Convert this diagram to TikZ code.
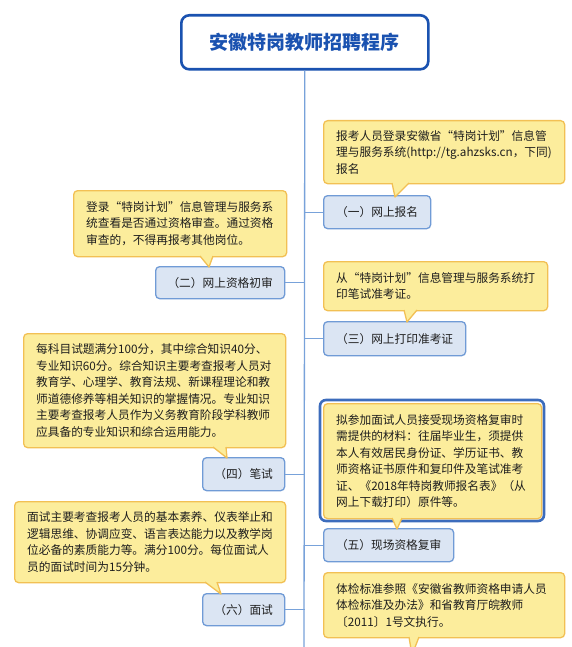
\documentclass[tikz,border=0pt]{standalone}
\usepackage{fontspec}
\setmainfont{Noto Sans CJK SC}
\definecolor{cfill}{RGB}{252,237,156}
\definecolor{cborder}{RGB}{242,192,84}
\definecolor{bfill}{RGB}{219,229,243}
\definecolor{bborder}{RGB}{112,155,214}
\definecolor{tblue}{RGB}{26,82,176}
\definecolor{trunkc}{RGB}{120,162,218}
\definecolor{txt}{RGB}{30,30,30}
\newcommand\ptr[4]{%
  \fill[cfill] (#1,#3-1.3) -- (#1,#3) -- #4 -- (#2,#3) -- (#2,#3-1.3) -- cycle;
  \draw[cborder,line width=1.3pt,line join=round] (#1,#3) -- #4 -- (#2,#3);}
\begin{document}
\begin{tikzpicture}[x=1pt,y=-1pt,
  callout/.style={draw=cborder,fill=cfill,line width=1.3pt,rounded corners=4pt,
    anchor=north west,align=left,inner xsep=12.5pt,inner ysep=0pt,
    text=txt,font=\fontsize{11.7}{16.5}\selectfont},
  branch/.style={draw=bborder,fill=bfill,line width=1.3pt,rounded corners=4pt,
    anchor=north west,inner sep=0pt,text=txt,font=\fontsize{11.7}{14}\selectfont},
  conn/.style={draw=trunkc,line width=1.3pt}]
\useasboundingbox (0,0) rectangle (572,647);
\fill[white] (0,0) rectangle (572,647);
% title
\node[draw=tblue,fill=white,line width=2.6pt,rounded corners=8pt,anchor=north west,
  minimum width=247pt,minimum height=54pt,inner sep=0pt,text=tblue,
  font=\fontsize{19}{22}\selectfont\bfseries] (title) at (180,14) {安徽特岗教师招聘程序};
\coordinate (bottom) at (304,650);
\draw[conn] (title.south) -- (bottom);
% branch nodes
\node[branch,minimum width=107pt,minimum height=33pt] (b1) at (323,195) {（一）网上报名};
\node[branch,minimum width=129pt,minimum height=32pt] (b2) at (155,266) {（二）网上资格初审};
\node[branch,minimum width=142pt,minimum height=34pt] (b3) at (323,321) {（三）网上打印准考证};
\node[branch,minimum width=82pt,minimum height=33pt] (b4) at (202,457) {（四）笔试};
\node[branch,minimum width=130pt,minimum height=33pt] (b5) at (323,528) {（五）现场资格复审};
\node[branch,minimum width=82pt,minimum height=32pt] (b6) at (202,593) {（六）面试};
\draw[conn] (b1.west) -- (b1.west -| title.south);
\draw[conn] (b2.east) -- (b2.east -| title.south);
\draw[conn] (b3.west) -- (b3.west -| title.south);
\draw[conn] (b4.east) -- (b4.east -| title.south);
\draw[conn] (b5.west) -- (b5.west -| title.south);
\draw[conn] (b6.east) -- (b6.east -| title.south);
% callouts
\node[callout,minimum width=241pt,minimum height=63pt,text width=216pt] (c1) at (323,120)
  {报考人员登录安徽省“特岗计划”信息管\\理与服务系统(http://tg.ahzsks.cn，下同)\\报名};
\ptr{392}{409}{183}{(395,197)}
\node[callout,minimum width=213pt,minimum height=66pt,text width=188pt] (c2) at (73,190)
  {登录“特岗计划”信息管理与服务系\\统查看是否通过资格审查。通过资格\\审查的，不得再报考其他岗位。};
\ptr{200}{213}{256}{(209,267)}
\node[callout,minimum width=224pt,minimum height=49pt,text width=199pt] (c3) at (323,261)
  {从“特岗计划”信息管理与服务系统打\\印笔试准考证。};
\ptr{404}{417}{310}{(407,322)}
\node[callout,minimum width=262pt,minimum height=114pt,text width=237pt] (c4) at (23,333)
  {每科目试题满分100分，其中综合知识40分、\\专业知识60分。综合知识主要考查报考人员对\\教育学、心理学、教育法规、新课程理论和教\\师道德修养等相关知识的掌握情况。专业知识\\主要考查报考人员作为义务教育阶段学科教师\\应具备的专业知识和综合运用能力。};
\ptr{213}{226}{447}{(227,458)}
\draw[draw=tblue!85!white,line width=2.6pt,rounded corners=6pt] (320,400) rectangle (544,521);
\node[callout,minimum width=218pt,minimum height=115pt,text width=193pt] (c5) at (323,403)
  {拟参加面试人员接受现场资格复审时\\需提供的材料：往届毕业生，须提供\\本人有效居民身份证、学历证书、教\\师资格证书原件和复印件及笔试准考\\证、《2018年特岗教师报名表》（从\\网上下载打印）原件等。};
\ptr{392}{402}{518}{(397,529)}
\node[callout,minimum width=271pt,minimum height=81pt,text width=246pt] (c6) at (14,501)
  {面试主要考查报考人员的基本素养、仪表举止和\\逻辑思维、协调应变、语言表达能力以及教学岗\\位必备的素质能力等。满分100分。每位面试人\\员的面试时间为15分钟。};
\ptr{205}{217}{582}{(221,594)}
\node[callout,minimum width=241pt,minimum height=65pt,text width=216pt] (c7) at (323,572)
  {体检标准参照《安徽省教师资格申请人员\\体检标准及办法》和省教育厅皖教师\\〔2011〕1号文执行。};
\ptr{409}{419}{637}{(412,655)}
\end{tikzpicture}
\end{document}
